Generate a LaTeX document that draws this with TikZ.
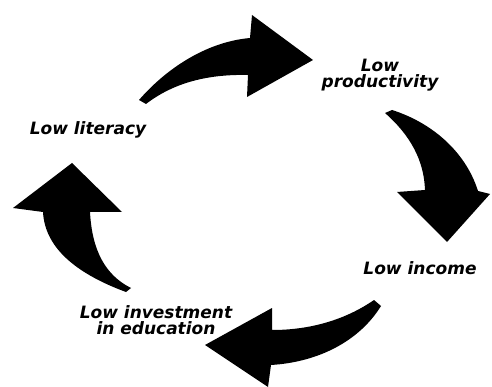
\documentclass[tikz,border=0pt]{standalone}
\usepackage{fontspec}
\setmainfont{DejaVu Sans}
\usepackage{tikz}
\usetikzlibrary{positioning}

\begin{document}
\begin{tikzpicture}[
    x=1pt, y=-1pt,
    cycletxt/.style={text=black,font={\fontsize{17}{16}\selectfont\bfseries\itshape},inner sep=0pt,align=center},
    bigarrow/.style={fill=black,draw=none},
]
    \useasboundingbox (0,0) rectangle (492,387);

    % Text
    \node[cycletxt] (literacy)     at (88,130)  {Low literacy};
    \node[cycletxt] (productivity) at (380,75)  {Low\\productivity};
    \node[cycletxt] (income)       at (420,268) {Low income};
    \node[cycletxt] (education)    at (156,320) {Low investment\\in education};

    % Arrows
    % literacy -> productivity
    \fill[bigarrow] (139,100) .. controls (165,70) and (205,42) .. (250,38)
        -- (252,15) -- (313,60) -- (247,97) -- (248,75)
        .. controls (205,74) and (172,84) .. (146,104) -- cycle;
    % productivity -> income
    \fill[bigarrow] (385,113) .. controls (410,135) and (424,160) .. (425,190)
        -- (397,192) -- (447,242) -- (490,194) -- (478,191)
        .. controls (465,150) and (430,122) .. (392,110) -- cycle;
    % income -> education
    \fill[bigarrow] (374,300) .. controls (345,320) and (310,330) .. (272,330)
        -- (272,308) -- (205,345) -- (268,387) -- (271,365)
        .. controls (320,362) and (360,340) .. (381,306) -- cycle;
    % education -> literacy
    \fill[bigarrow] (126,292) .. controls (80,275) and (45,250) .. (43,212)
        -- (13,208) -- (72,163) -- (122,212) -- (90,212)
        .. controls (92,250) and (105,275) .. (131,288) -- cycle;

\end{tikzpicture}
\end{document}
